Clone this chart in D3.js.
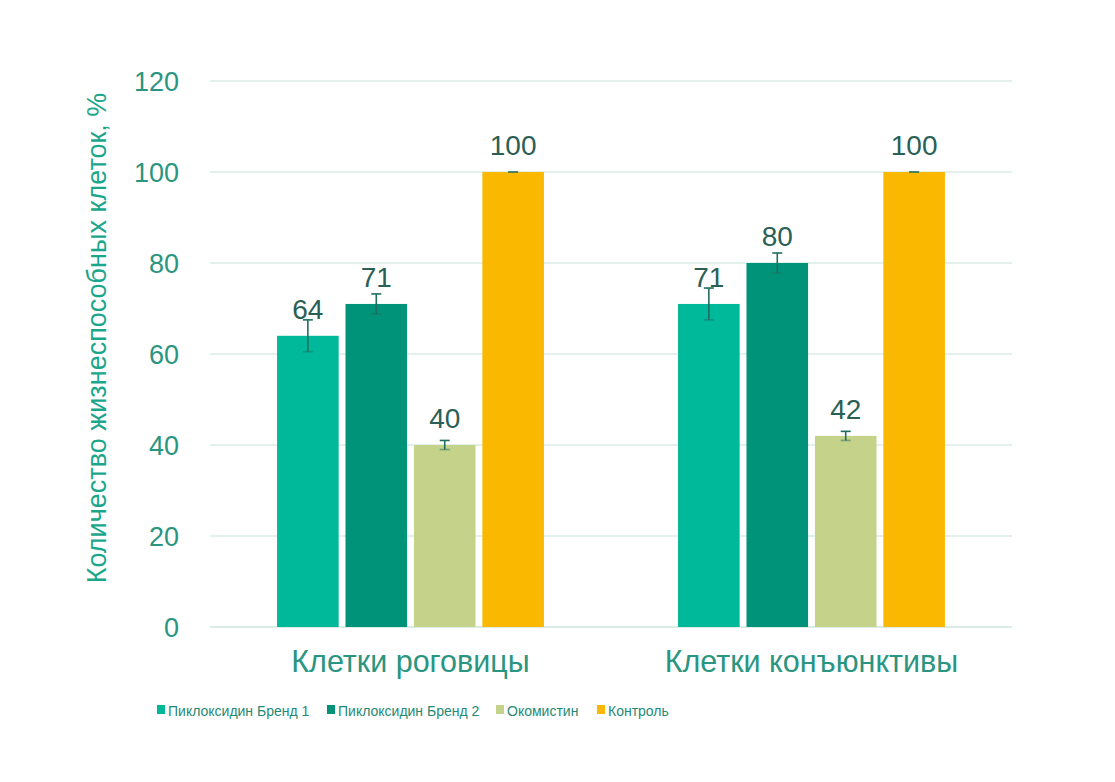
<!DOCTYPE html>
<html><head><meta charset="utf-8">
<script src="https://cdn.jsdelivr.net/npm/d3@7"></script>
<style>body{margin:0;background:#fff}svg{display:block}text{font-family:"Liberation Sans",Arial,sans-serif}</style>
</head><body><svg id="c" width="1115" height="782"></svg>
<script>
const categories = ["Клетки роговицы", "Клетки конъюнктивы"];
const seriesNames = ["Пиклоксидин Бренд 1", "Пиклоксидин Бренд 2", "Окомистин", "Контроль"];
const brend1 = [64, 71];
const brend2 = [71, 80];
const okomistin = [40, 42];
const kontrol = [100, 100];
const err1 = [3.5, 3.5];
const err2 = [2.2, 2.2];
const err3 = [1, 1];
const err4 = [0, 0];
const yTicks = [0, 20, 40, 60, 80, 100, 120];
const colors = ["#00b89a", "#00937a", "#c5d28a", "#fbb800"];

(function () {
const values = [brend1, brend2, okomistin, kontrol];
const errs = [err1, err2, err3, err4];
const svg = d3.select("#c");
const pl = 210, pr = 1012, pt = 81, pb = 627;
const y = d3.scaleLinear().domain([0, 120]).range([pb, pt]);
const x0 = d3.scaleBand().domain(categories).range([pl, pr]).paddingInner(0).paddingOuter(0);
const x1 = d3.scaleBand().domain(seriesNames).range([0, x0.bandwidth()]).paddingInner(0.1).paddingOuter(0.98);

// grid
svg.append("g").selectAll("line").data(yTicks).join("line")
  .attr("x1", pl).attr("x2", pr).attr("y1", d => y(d)).attr("y2", d => y(d))
  .attr("stroke", d => d === 0 ? "#cfe6dc" : "#d8ece3").attr("stroke-width", 1.3);

// y ticks
svg.append("g").selectAll("text").data(yTicks).join("text")
  .attr("x", 179).attr("y", d => y(d)).attr("dy", "0.36em").attr("text-anchor", "end")
  .attr("fill", "#2a9580").attr("font-size", 27).text(d => d);

// y title
svg.append("text").attr("transform", `translate(106,${338}) rotate(-90)`)
  .attr("text-anchor", "middle").attr("fill", "#1aa68a").attr("font-size", 27)
  .text("Количество жизнеспособных клеток, %");

// bars
const rows = [];
categories.forEach((c, ci) => seriesNames.forEach((s, si) => rows.push({c, s, si, v: values[si][ci], e: errs[si][ci]})));
svg.append("g").selectAll("rect").data(rows).join("rect")
  .attr("x", d => x0(d.c) + x1(d.s)).attr("width", x1.bandwidth())
  .attr("y", d => y(d.v)).attr("height", d => y(0) - y(d.v))
  .attr("fill", d => colors[d.si]);

// error bars
const eg = svg.append("g").attr("stroke", "#1f6e5f").attr("stroke-width", 1.6);
rows.forEach(d => {
  const cx = x0(d.c) + x1(d.s) + x1.bandwidth() / 2;
  if (d.e > 0) {
    eg.append("line").attr("x1", cx).attr("x2", cx).attr("y1", y(d.v + d.e)).attr("y2", y(d.v - d.e));
    eg.append("line").attr("x1", cx - 5).attr("x2", cx + 5).attr("y1", y(d.v + d.e)).attr("y2", y(d.v + d.e));
    eg.append("line").attr("x1", cx - 5).attr("x2", cx + 5).attr("y1", y(d.v - d.e)).attr("y2", y(d.v - d.e)).attr("stroke-opacity", 0.5);
  } else {
    eg.append("line").attr("x1", cx - 5).attr("x2", cx + 5).attr("y1", y(d.v)).attr("y2", y(d.v));
  }
});

// value labels
svg.append("g").selectAll("text").data(rows).join("text")
  .attr("x", d => x0(d.c) + x1(d.s) + x1.bandwidth() / 2)
  .attr("y", d => y(d.v) - 17)
  .attr("text-anchor", "middle").attr("fill", "#2a5f56").attr("font-size", 28)
  .text(d => d.v);

// category labels
svg.append("g").selectAll("text").data(categories).join("text")
  .attr("x", d => x0(d) + x0.bandwidth() / 2).attr("y", 672)
  .attr("text-anchor", "middle").attr("fill", "#2a9580").attr("font-size", 30.5).text(d => d);

// legend
const legX = [157, 327, 496, 597];
const lg = svg.append("g");
seriesNames.forEach((s, i) => {
  lg.append("rect").attr("x", legX[i]).attr("y", 705).attr("width", 8).attr("height", 9).attr("fill", colors[i]);
  lg.append("text").attr("x", legX[i] + 11).attr("y", 716)
    .attr("fill", "#1f8a75").attr("font-size", 14).attr("font-weight", 500).text(s);
});
})();
</script></body></html>
